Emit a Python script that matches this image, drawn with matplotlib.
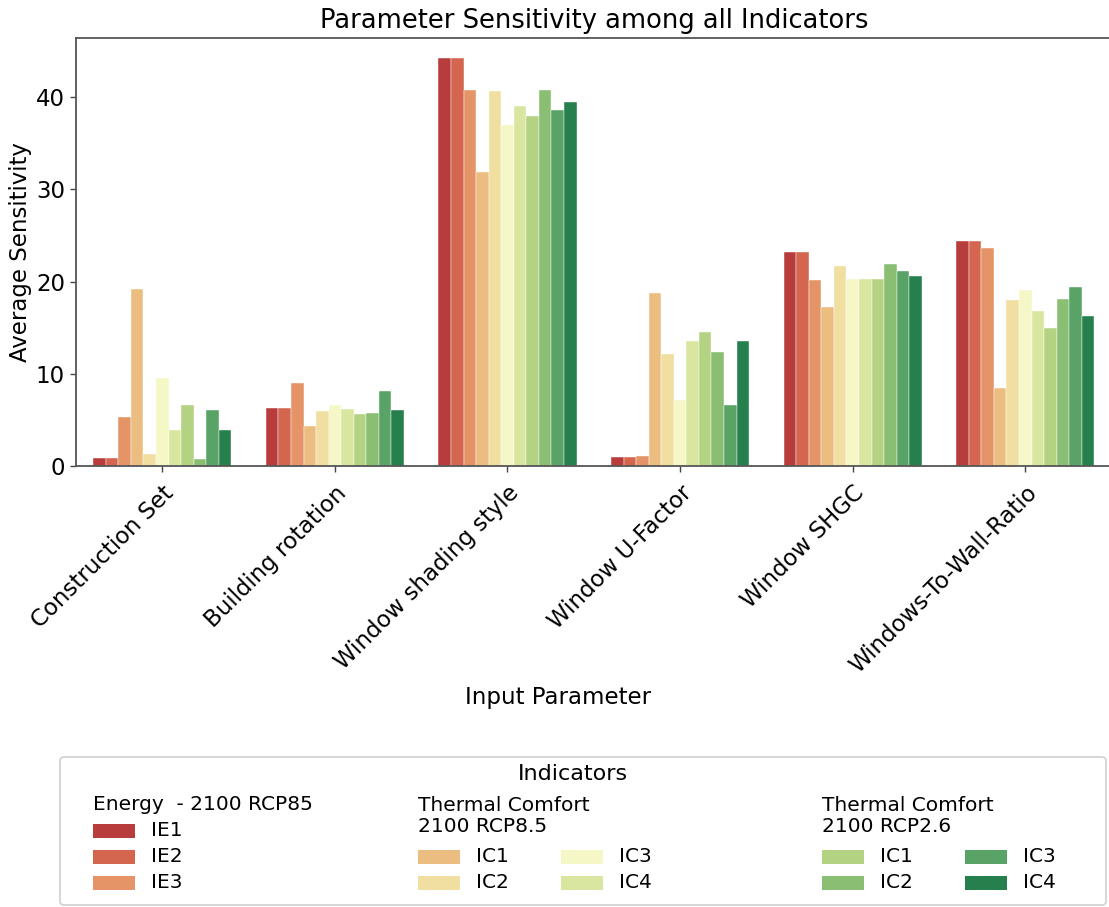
import matplotlib
matplotlib.use("Agg")
import matplotlib.pyplot as plt
from matplotlib.patches import Rectangle, FancyBboxPatch
import numpy as np
import seaborn as sns

# ---------------- data ----------------
parameters = ["Construction Set", "Building rotation", "Window shading style",
              "Window U-Factor", "Window SHGC", "Windows-To-Wall-Ratio"]
indicators = ["IE1", "IE2", "IE3",
              "IC1 (RCP8.5)", "IC2 (RCP8.5)", "IC3 (RCP8.5)", "IC4 (RCP8.5)",
              "IC1 (RCP2.6)", "IC2 (RCP2.6)", "IC3 (RCP2.6)", "IC4 (RCP2.6)"]

ie1 = [0.9, 6.3, 44.2, 0.95, 23.15, 24.4]
ie2 = [0.9, 6.3, 44.2, 0.95, 23.15, 24.4]
ie3 = [5.3, 8.95, 40.8, 1.1, 20.15, 23.6]
ic1_85 = [19.2, 4.3, 31.9, 18.8, 17.2, 8.5]
ic2_85 = [1.3, 6.0, 40.6, 12.1, 21.7, 18.05]
ic3_85 = [9.55, 6.65, 37.0, 7.2, 20.25, 19.1]
ic4_85 = [3.95, 6.2, 39.0, 13.5, 20.3, 16.85]
ic1_26 = [6.6, 5.6, 37.9, 14.5, 20.3, 15.0]
ic2_26 = [0.8, 5.8, 40.8, 12.4, 21.9, 18.1]
ic3_26 = [6.05, 8.1, 38.55, 6.6, 21.15, 19.4]
ic4_26 = [3.9, 6.1, 39.45, 13.6, 20.55, 16.3]
series = [ie1, ie2, ie3, ic1_85, ic2_85, ic3_85, ic4_85, ic1_26, ic2_26, ic3_26, ic4_26]

legend_groups = [
    ("Energy  - 2100 RCP85", ["IE1", "IE2", "IE3"]),
    ("Thermal Comfort\n2100 RCP8.5", ["IC1", "IC2", "IC3", "IC4"]),
    ("Thermal Comfort\n2100 RCP2.6", ["IC1", "IC2", "IC3", "IC4"]),
]

# ---------------- style ----------------
FONT = ["DejaVu Sans"]
plt.rcParams["font.family"] = FONT
W, H = 1109, 907
fig = plt.figure(figsize=(W / 100, H / 100), dpi=100)

def fx(x):
    return x / W

def fy(y):
    return 1 - y / H

ax_left, ax_right, ax_top, ax_bot = 76, 1111.6, 38, 466
ax = fig.add_axes([fx(ax_left), fy(ax_bot), (ax_right - ax_left) / W, (ax_bot - ax_top) / H])

pal = sns.color_palette("RdYlGn", len(series))
colors = [sns.desaturate(c, 0.75) for c in pal]

n = len(series)
group_w = 0.8
bw = group_w / n
x = np.arange(len(parameters))
for i, vals in enumerate(series):
    offs = -group_w / 2 + bw * (i + 0.5)
    ax.bar(x + offs, vals, width=bw, color=colors[i], label=indicators[i],
           edgecolor="white", linewidth=0.3)

ax.set_xlim(-0.5, len(parameters) - 0.5)
ax.set_ylim(0, 46.4)
ax.set_yticks([0, 10, 20, 30, 40])
ax.set_xticks(x)
ax.set_xticklabels(parameters, rotation=45, ha="right", rotation_mode="anchor")
ax.tick_params(axis="both", labelsize=16.5, length=4, width=1.0, color="#444444", pad=4)
ax.tick_params(axis="x", pad=7)

for s in ["left", "bottom", "top"]:
    ax.spines[s].set_color("#555555")
    ax.spines[s].set_linewidth(1.3)
ax.spines["right"].set_visible(False)

ax.set_title("Parameter Sensitivity among all Indicators", fontsize=18.5, pad=7)
ax.set_ylabel("Average Sensitivity", fontsize=16.5, labelpad=3)
ax.set_xlabel("Input Parameter", fontsize=16.5)
ax.xaxis.set_label_coords((558 - ax_left) / (ax_right - ax_left), (ax_bot - 686) / (ax_bot - ax_top))

# ---------------- legend (drawn manually) ----------------
frame = FancyBboxPatch((fx(60), fy(905)), fx(1106) - fx(60), fy(757) - fy(905),
                       boxstyle="round,pad=0,rounding_size=0.004",
                       transform=fig.transFigure, facecolor="white",
                       edgecolor="#d0d0d0", linewidth=1.2)
fig.add_artist(frame)
fig.text(fx(573), fy(774), "Indicators", ha="center", va="center", fontsize=16)

LFS = 14.5
pw, ph = 42, 14

def patch(xl, yc, color, label):
    fig.add_artist(Rectangle((fx(xl), fy(yc + ph / 2)), pw / W, ph / H,
                             transform=fig.transFigure, facecolor=color, edgecolor="none"))
    fig.text(fx(xl + 58), fy(yc), label, ha="left", va="center", fontsize=LFS)

# group 1
fig.text(fx(93), fy(805), legend_groups[0][0], ha="left", va="center", fontsize=LFS)
for k, lab in enumerate(legend_groups[0][1]):
    patch(93, 831 + 26 * k, colors[k], lab)

# groups 2 and 3
for g, (gx, cidx) in enumerate([(418, 3), (822, 7)]):
    title, labs = legend_groups[g + 1]
    fig.text(fx(gx), fy(816), title, ha="left", va="center", fontsize=LFS, linespacing=1.15)
    for k, lab in enumerate(labs):
        col = k // 2
        row = k % 2
        patch(gx + 143 * col, 857 + 26 * row, colors[cidx + k], lab)

fig.savefig("out.png", dpi=100)
